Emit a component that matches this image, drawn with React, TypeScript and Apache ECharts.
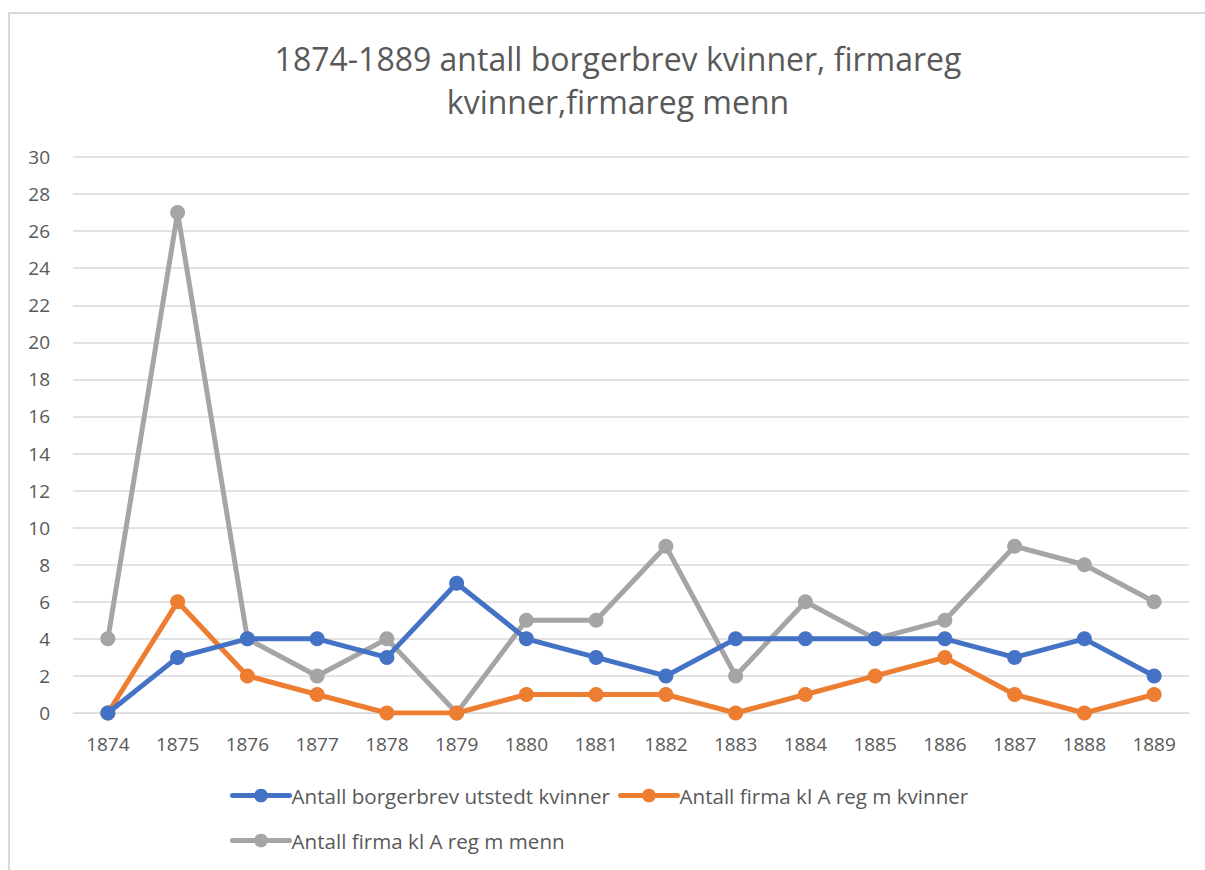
import React, { useEffect, useRef } from "react";
import * as echarts from "echarts";

const years = ["1874","1875","1876","1877","1878","1879","1880","1881","1882","1883","1884","1885","1886","1887","1888","1889"];
const borgerbrevKvinner = [0, 3, 4, 4, 3, 7, 4, 3, 2, 4, 4, 4, 4, 3, 4, 2];
const firmaKvinner = [0, 6, 2, 1, 0, 0, 1, 1, 1, 0, 1, 2, 3, 1, 0, 1];
const firmaMenn = [4, 27, 4, 2, 4, 0, 5, 5, 9, 2, 6, 4, 5, 9, 8, 6];
const seriesNames = [
  "Antall borgerbrev utstedt kvinner",
  "Antall firma kl A reg m kvinner",
  "Antall firma kl A reg m menn",
];
const colors = ["#4472C4", "#ED7D31", "#A5A5A5"];
const titleText = "1874-1889 antall borgerbrev kvinner, firmareg\nkvinner,firmareg menn";

const FONT = "'Open Sans', 'Noto Sans', sans-serif";

export default function App() {
  const ref = useRef<HTMLDivElement>(null);
  useEffect(() => {
    if (!ref.current) return;
    const chart = echarts.init(ref.current, undefined, { renderer: "svg" });
    const values = [borgerbrevKvinner, firmaKvinner, firmaMenn];
    const legendCommon = {
      left: 225,
      orient: "horizontal" as const,
      itemWidth: 57,
      itemHeight: 17,
      itemGap: 8,
      lineStyle: { width: 5, cap: "round" },
      textStyle: { fontFamily: FONT, fontSize: 20.6, color: "#595959", padding: [0, 0, 0, -3] },
    };
    chart.setOption({
      animation: false,
      backgroundColor: "#ffffff",
      textStyle: { fontFamily: FONT },
      graphic: [
        {
          type: "rect",
          shape: { x: 9, y: 13, width: 1300, height: 1000 },
          style: { fill: "none", stroke: "#D9D9D9", lineWidth: 2 },
          silent: true,
        },
      ],
      title: {
        text: titleText,
        left: 613,
        textAlign: "center",
        top: 32,
        textStyle: {
          fontFamily: FONT,
          fontSize: 32,
          fontWeight: "normal",
          color: "#595959",
          lineHeight: 43,
        },
      },
      legend: [
        {
          ...legendCommon,
          top: 780,
          data: [seriesNames[0], seriesNames[1]],
        },
        {
          ...legendCommon,
          top: 825,
          data: [seriesNames[2]],
        },
      ],
      grid: { left: 73, right: 16, top: 157, bottom: 157, containLabel: false },
      xAxis: {
        type: "category",
        data: years,
        boundaryGap: true,
        axisLine: { show: true, lineStyle: { color: "#D9D9D9", width: 1 } },
        axisTick: { show: false },
        axisLabel: { color: "#595959", fontSize: 19, fontFamily: FONT, margin: 21 },
      },
      yAxis: {
        type: "value",
        min: 0,
        max: 30,
        interval: 2,
        axisLine: { show: false },
        axisTick: { show: false },
        splitLine: { lineStyle: { color: "#D9D9D9", width: 1.5 } },
        axisLabel: { color: "#595959", fontSize: 19, fontFamily: FONT, margin: 23 },
      },
      series: seriesNames.map((name, i) => ({
        name,
        type: "line",
        data: values[i],
        color: colors[i],
        symbol: "circle",
        symbolSize: 15,
        lineStyle: { width: 5, color: colors[i] },
        itemStyle: { color: colors[i] },
        z: 2 + (i === 2 ? 0 : i === 0 ? 2 : 1),
      })),
    });
    return () => chart.dispose();
  }, []);
  return (
    <div
      ref={ref}
      style={{ position: "absolute", left: 0, top: 0, width: 1205, height: 870 }}
    />
  );
}
